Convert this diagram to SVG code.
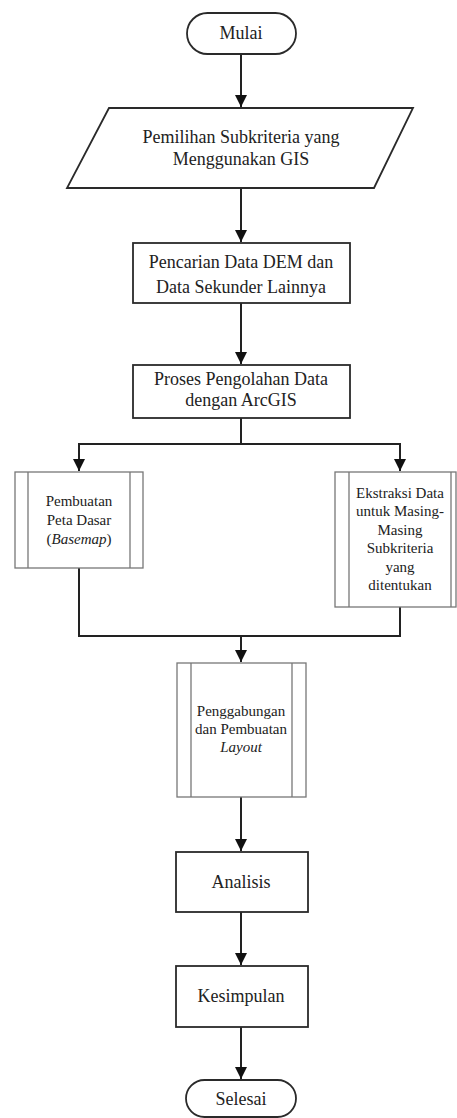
<svg xmlns="http://www.w3.org/2000/svg" width="457" height="1118" viewBox="0 0 457 1118">
<defs>
<style>
.n{fill:#fff;stroke:#2a2a2a;stroke-width:1.8}
.p{fill:#fff;stroke:#777;stroke-width:1.3}
.c{fill:none;stroke:#222;stroke-width:2}
.t{font-family:"Liberation Serif","Times New Roman",serif;font-size:18px;fill:#222;text-anchor:middle}
.s{font-family:"Liberation Serif","Times New Roman",serif;font-size:15px;fill:#222;text-anchor:middle}
</style>
<marker id="a" markerWidth="12" markerHeight="12" viewBox="0 0 12 12" refX="12" refY="6" orient="auto" markerUnits="userSpaceOnUse">
<path d="M0,0 L12,6 L0,12 z" fill="#111"/>
</marker>
</defs>
<g id="connectors">
<line class="c" x1="241" y1="54" x2="241" y2="107" marker-end="url(#a)"/>
<line class="c" x1="241" y1="188" x2="241" y2="242" marker-end="url(#a)"/>
<line class="c" x1="241" y1="303" x2="241" y2="364" marker-end="url(#a)"/>
<polyline class="c" points="241,418 241,444"/>
<polyline class="c" points="241,444 79,444 79,471" marker-end="url(#a)"/>
<polyline class="c" points="241,444 400,444 400,471" marker-end="url(#a)"/>
<polyline class="c" points="79,568 79,636 400,636 400,607"/>
<line class="c" x1="241" y1="636" x2="241" y2="662" marker-end="url(#a)"/>
<line class="c" x1="241" y1="797" x2="241" y2="851" marker-end="url(#a)"/>
<line class="c" x1="241" y1="912" x2="241" y2="965" marker-end="url(#a)"/>
<line class="c" x1="241" y1="1027" x2="241" y2="1079" marker-end="url(#a)"/>
</g>
<g id="mulai">
<rect class="n" x="187" y="13" width="109" height="41" rx="20.5"/>
<text class="t" x="241" y="39">Mulai</text>
</g>
<g id="pemilihan">
<polygon class="n" points="109,108 413,108 374,188 67,188"/>
<text class="t" x="241" y="143">Pemilihan Subkriteria yang</text>
<text class="t" x="241" y="165">Menggunakan GIS</text>
</g>
<g id="pencarian">
<rect class="n" x="133" y="243" width="217" height="60"/>
<text class="t" x="241" y="268">Pencarian Data DEM dan</text>
<text class="t" x="241" y="293">Data Sekunder Lainnya</text>
</g>
<g id="proses">
<rect class="n" x="133" y="365" width="217" height="53"/>
<text class="t" x="241" y="385">Proses Pengolahan Data</text>
<text class="t" x="241" y="406">dengan ArcGIS</text>
</g>
<g id="basemap">
<rect class="p" x="15" y="472" width="128" height="96"/>
<line class="p" x1="28" y1="472" x2="28" y2="568"/>
<line class="p" x1="130" y1="472" x2="130" y2="568"/>
<text class="s" x="79" y="506">Pembuatan</text>
<text class="s" x="79" y="525">Peta Dasar</text>
<text class="s" x="79" y="544">(<tspan font-style="italic">Basemap</tspan>)</text>
</g>
<g id="ekstraksi">
<rect class="p" x="335" y="472" width="121" height="135"/>
<line class="p" x1="349" y1="472" x2="349" y2="607"/>
<line class="p" x1="451" y1="472" x2="451" y2="607"/>
<text class="s" x="400" y="498">Ekstraksi Data</text>
<text class="s" x="400" y="516">untuk Masing-</text>
<text class="s" x="400" y="535">Masing</text>
<text class="s" x="400" y="553">Subkriteria</text>
<text class="s" x="400" y="572">yang</text>
<text class="s" x="400" y="590">ditentukan</text>
</g>
<g id="penggabungan">
<rect class="p" x="177" y="663" width="129" height="134"/>
<line class="p" x1="191" y1="663" x2="191" y2="797"/>
<line class="p" x1="292" y1="663" x2="292" y2="797"/>
<text class="s" x="241" y="716">Penggabungan</text>
<text class="s" x="241" y="734">dan Pembuatan</text>
<text class="s" x="241" y="752" font-style="italic">Layout</text>
</g>
<g id="analisis">
<rect class="n" x="176" y="852" width="132" height="60"/>
<text class="t" x="241" y="888">Analisis</text>
</g>
<g id="kesimpulan">
<rect class="n" x="176" y="966" width="132" height="61"/>
<text class="t" x="241" y="1002">Kesimpulan</text>
</g>
<g id="selesai">
<rect class="n" x="186" y="1080" width="110" height="37" rx="18.5"/>
<text class="t" x="241" y="1105">Selesai</text>
</g>
</svg>
